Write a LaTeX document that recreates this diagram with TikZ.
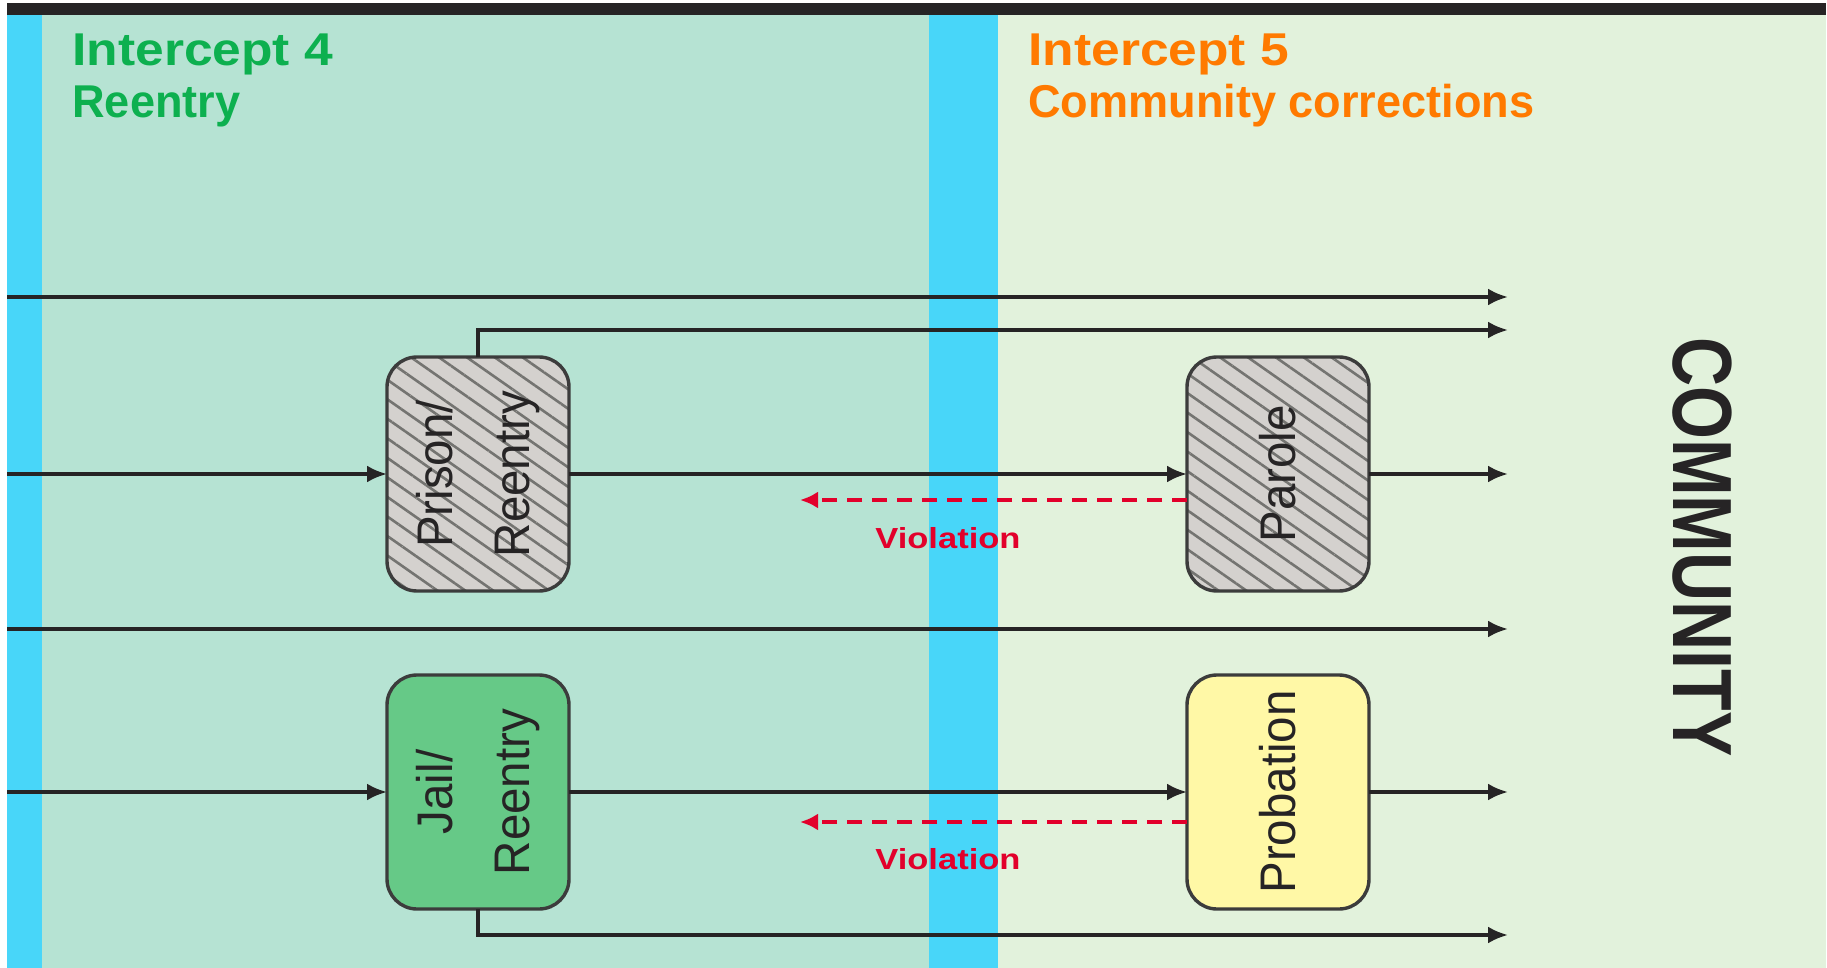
\documentclass[tikz,border=0pt]{standalone}
\usepackage{fontspec}
\setmainfont{Liberation Sans}
\newfontfamily\titlewide[FakeStretch=1.12]{Liberation Sans}
\newfontfamily\titlenarrow[FakeStretch=0.98]{Liberation Sans}
\newfontfamily\violfont[FakeStretch=1.19]{Liberation Sans}
\newfontfamily\boxfont[FakeStretch=0.95]{Liberation Sans}
\newfontfamily\commfont[FakeStretch=0.81]{Liberation Sans}
\usetikzlibrary{arrows.meta,patterns.meta}
\definecolor{mint}{HTML}{B6E3D3}
\definecolor{pale}{HTML}{E2F2DC}
\definecolor{sky}{HTML}{48D6F9}
\definecolor{barblack}{HTML}{262425}
\definecolor{ttlgreen}{HTML}{0DB04F}
\definecolor{ttlorange}{HTML}{FF7A00}
\definecolor{hatchbg}{HTML}{D4D1CE}
\definecolor{hatchln}{HTML}{747471}
\definecolor{jailgreen}{HTML}{66C987}
\definecolor{probyellow}{HTML}{FFF8A6}
\definecolor{violred}{HTML}{E2002B}
\definecolor{edgecol}{HTML}{3C3C3C}
\definecolor{flow}{HTML}{262425}
\begin{document}
\begin{tikzpicture}[x=0.5pt,y=-0.5pt,
  flowline/.style={draw=flow,line width=1.7pt},
  arr/.style={flowline,-{Latex[length=10pt,width=8.5pt]}},
  viol/.style={draw=violred,line width=1.8pt,dash pattern=on 7.5pt off 5pt,-{Latex[length=9pt,width=8.5pt]}},
  boxnode/.style={draw=edgecol,line width=1.7pt,rounded corners=15pt,minimum width=91pt,minimum height=117pt,inner sep=0pt,outer sep=0pt},
  hatched/.style={boxnode,preaction={fill=hatchbg},preaction={pattern={Lines[angle=-35,distance=8pt,line width=1.3pt]},pattern color=hatchln}},
  boxtext/.style={rotate=90,align=center,font=\boxfont\fontsize{25}{38.5}\selectfont,text=flow,inner sep=0pt},
  ttl/.style={anchor=base west,inner sep=0pt},
  ttlwide/.style={ttl,font=\titlewide\bfseries\fontsize{23}{27}\selectfont},
  ttlnarrow/.style={ttl,font=\titlenarrow\bfseries\fontsize{23}{27}\selectfont},
  viollabel/.style={anchor=base west,inner sep=0pt,text=violred,font=\violfont\bfseries\fontsize{14.5}{17}\selectfont}
]
\useasboundingbox (0,0) rectangle (1827,968);
% backgrounds
\fill[white] (0,0) rectangle (1827,968);
\fill[mint] (7,15) rectangle (929,968);
\fill[pale] (998,15) rectangle (1826,968);
\fill[sky] (7,15) rectangle (42,968);
\fill[sky] (929,15) rectangle (998,968);
\fill[barblack] (7,3) rectangle (1826,15);
% titles
\node[ttlwide,text=ttlgreen] (i4) at (72,66) {Intercept 4};
\node[ttlnarrow,text=ttlgreen] (i4b) at (72,118) {Reentry};
\node[ttlwide,text=ttlorange] (i5) at (1028,66) {Intercept 5};
\node[ttlnarrow,text=ttlorange] (i5b) at (1028,118) {Community corrections};
% boxes
\node[hatched] (prison) at (478,474) {};
\node[hatched] (parole) at (1278,474) {};
\node[boxnode,fill=jailgreen] (jail) at (478,792) {};
\node[boxnode,fill=probyellow] (prob) at (1278,792) {};
\node[boxtext] (prisontxt) at (prison) {Prison/\\Reentry};
\node[boxtext] (paroletxt) at (parole) {Parole};
\node[boxtext] (jailtxt) at (jail) {Jail/\\Reentry};
\node[boxtext] (probtxt) at (prob) {Probation};
% free ends
\coordinate (l1s) at (7,297);   \coordinate (l1e) at (1508,297);
\coordinate (l2e) at (1508,330);
\coordinate (l3s) at (7,474);   \coordinate (l3e) at (1508,474);
\coordinate (l4s) at (7,629);   \coordinate (l4e) at (1508,629);
\coordinate (l5s) at (7,792);   \coordinate (l5e) at (1508,792);
\coordinate (l6e) at (1508,935);
\coordinate (v1e) at (800,500);
\coordinate (v2e) at (800,822);
% connectors
\draw[arr] (l1s) -- (l1e);
\draw[arr] (prison.north) |- (l2e);
\draw[arr] (l3s) -- (prison.west);
\draw[arr] (prison.east) -- (parole.west);
\draw[arr] (parole.east) -- (l3e);
\draw[arr] (l4s) -- (l4e);
\draw[arr] (l5s) -- (jail.west);
\draw[arr] (jail.east) -- (prob.west);
\draw[arr] (prob.east) -- (l5e);
\draw[arr] (jail.south) |- (l6e);
\draw[viol] (parole.west |- v1e) -- (v1e);
\draw[viol] (prob.west |- v2e) -- (v2e);
\node[viollabel] (vl1) at (875,548) {Violation};
\node[viollabel] (vl2) at (875,869) {Violation};
% community
\node[rotate=-90,inner sep=0pt,text=flow,font=\commfont\bfseries\fontsize{42}{50}\selectfont] (comm) at (1702,547) {COMMUNITY};
\end{tikzpicture}
\end{document}
